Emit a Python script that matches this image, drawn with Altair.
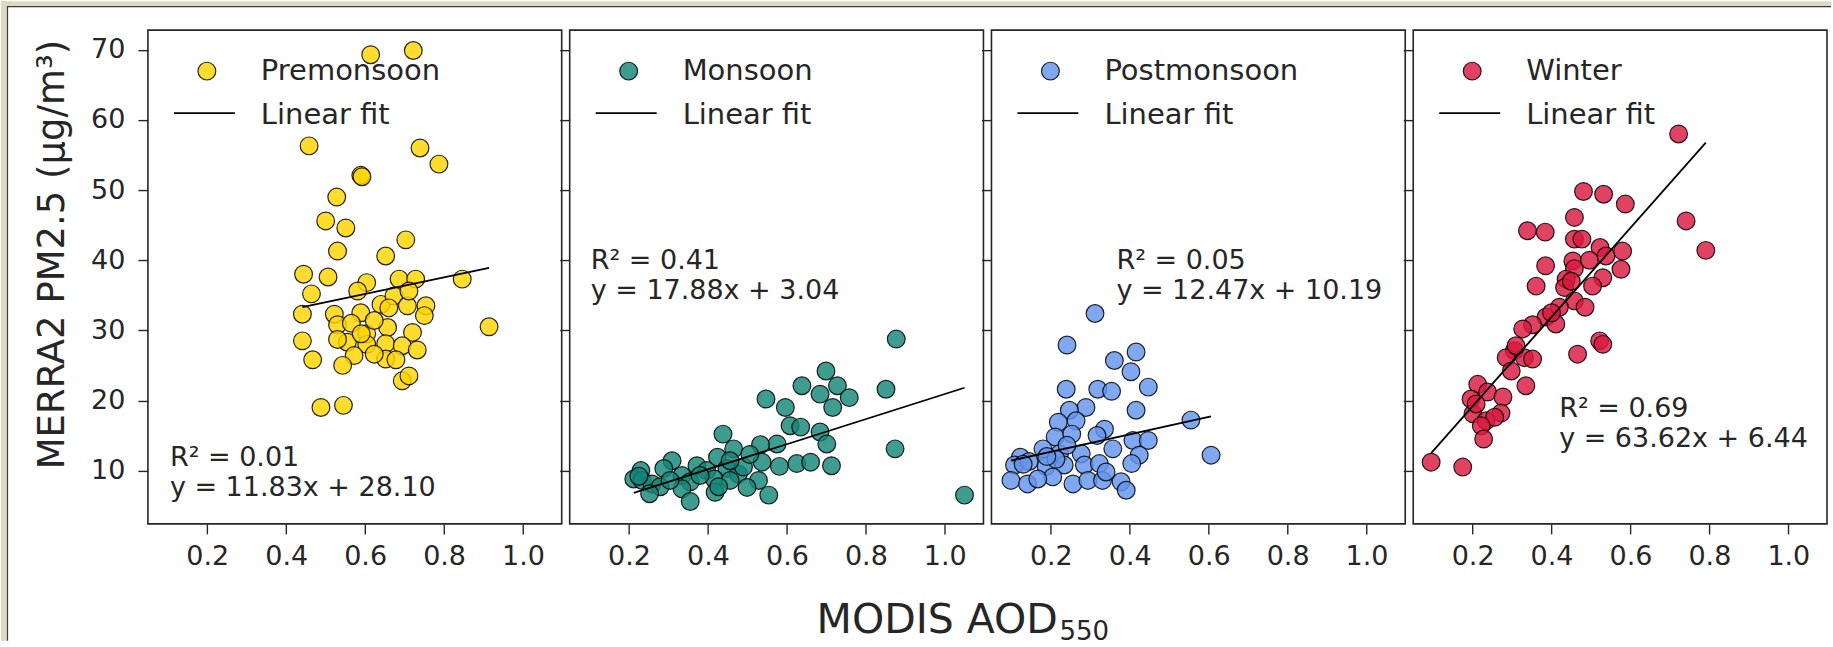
import altair as alt
import pandas as pd

FONT = "DejaVu Sans"
INK = "#262626"

# ---------------- data ----------------
seasons = ["Premonsoon", "Monsoon", "Postmonsoon", "Winter"]
colors = ["#FFD400", "#138677", "#6495ED", "#DA1840"]
slopes = [11.83, 17.88, 12.47, 63.62]
intercepts = [28.10, 3.04, 10.19, 6.44]
r2_values = [0.01, 0.41, 0.05, 0.69]

pre_aod = [0.614, 0.722, 0.458, 0.739, 0.787, 0.589, 0.592, 0.528, 0.500, 0.551,
           0.703, 0.530, 0.652, 0.444, 0.506, 0.604, 0.581, 0.686, 0.728, 0.846,
           0.464, 0.640, 0.673, 0.707, 0.754, 0.711, 0.441, 0.522, 0.589, 0.750,
           0.530, 0.565, 0.604, 0.657, 0.720, 0.914, 0.441, 0.555, 0.604, 0.652,
           0.694, 0.732, 0.467, 0.572, 0.652, 0.678, 0.543, 0.694, 0.711, 0.488,
           0.545, 0.623, 0.623, 0.530, 0.660, 0.590]
pre_pm = [69.3, 69.9, 56.3, 56.0, 53.7, 52.1, 51.9, 49.0, 45.6, 44.6,
          42.9, 41.3, 40.6, 38.0, 37.6, 36.8, 35.6, 37.3, 37.3, 37.3,
          35.2, 33.7, 34.9, 33.5, 33.5, 35.6, 32.3, 32.3, 32.5, 32.1,
          30.8, 31.0, 29.5, 30.4, 29.7, 30.5, 28.5, 28.3, 28.0, 28.1,
          27.8, 27.2, 25.8, 26.4, 25.9, 25.8, 25.0, 22.8, 23.5, 19.0,
          19.3, 31.4, 26.6, 28.7, 33.2, 29.5]

mon_aod = [0.877, 0.699, 0.638, 0.728, 0.851, 0.684, 0.758, 0.547, 0.716, 0.596,
           0.608, 0.635, 0.684, 0.438, 0.701, 0.575, 0.533, 0.465, 0.874, 0.424,
           0.537, 0.581, 0.625, 0.660, 0.713, 0.309, 0.372, 0.230, 0.288, 0.334,
           0.397, 0.448, 0.477, 0.490, 0.212, 0.233, 0.258, 0.279, 0.355, 0.416,
           0.456, 0.528, 0.334, 0.418, 0.499, 0.554, 0.355, 1.050, 0.252, 0.304,
           0.380, 0.506, 0.456, 0.427, 0.225]
mon_pm = [28.75, 24.2, 22.1, 22.1, 21.6, 20.9, 20.4, 20.2, 19.0, 19.0,
          16.4, 16.2, 15.5, 15.2, 13.8, 13.8, 13.7, 13.1, 13.1, 11.9,
          11.2, 10.6, 11.0, 11.2, 10.7, 11.4, 10.7, 10.0, 10.3, 9.3,
          10.0, 10.3, 9.5, 10.5, 8.8, 8.6, 8.1, 7.7, 8.4, 8.8,
          8.6, 8.6, 7.4, 6.9, 7.6, 6.5, 5.6, 6.5, 6.7, 8.6,
          9.3, 12.3, 11.4, 7.7, 9.2]

post_aod = [0.312, 0.241, 0.416, 0.361, 0.403, 0.239, 0.319, 0.354, 0.447, 0.416,
            0.289, 0.247, 0.555, 0.219, 0.264, 0.336, 0.317, 0.211, 0.253, 0.408,
            0.447, 0.180, 0.357, 0.123, 0.222, 0.277, 0.606, 0.424, 0.108, 0.145,
            0.188, 0.234, 0.285, 0.323, 0.405, 0.099, 0.141, 0.205, 0.256, 0.294,
            0.331, 0.378, 0.391, 0.167, 0.340, 0.213, 0.241, 0.130, 0.190]
post_pm = [32.4, 27.9, 26.9, 25.7, 24.1, 21.6, 21.6, 21.3, 21.9, 18.6,
           19.0, 18.6, 17.2, 16.9, 17.1, 15.9, 15.0, 14.8, 15.2, 14.3,
           14.3, 13.1, 13.1, 11.9, 12.4, 12.4, 12.2, 12.2, 10.8, 11.3,
           10.6, 10.8, 10.8, 11.0, 11.0, 8.6, 8.1, 9.1, 8.1, 8.6,
           8.6, 8.4, 7.2, 8.8, 9.8, 11.6, 13.6, 10.9, 12.0]

win_aod = [0.722, 0.481, 0.532, 0.587, 0.458, 0.741, 0.339, 0.384, 0.458, 0.477,
           0.523, 0.580, 0.791, 0.385, 0.454, 0.496, 0.458, 0.538, 0.576, 0.530,
           0.361, 0.437, 0.504, 0.433, 0.458, 0.485, 0.420, 0.386, 0.411, 0.352,
           0.327, 0.522, 0.530, 0.306, 0.466, 0.285, 0.331, 0.352, 0.298, 0.335,
           0.213, 0.238, 0.277, 0.196, 0.201, 0.272, 0.234, 0.256, 0.222, 0.228,
           0.095, 0.175, 0.209, 0.310, 0.450, 0.400]
win_pm = [58.0, 49.8, 49.4, 48.0, 46.1, 45.6, 44.2, 44.0, 43.0, 43.0,
          41.8, 41.3, 41.4, 39.2, 39.9, 40.0, 38.8, 40.6, 38.7, 37.5,
          36.3, 37.3, 36.3, 36.1, 34.2, 33.3, 33.3, 31.9, 30.9, 30.8,
          30.2, 28.5, 28.0, 27.1, 26.6, 26.1, 26.1, 25.9, 24.2, 22.1,
          22.3, 21.2, 20.5, 20.2, 18.1, 18.2, 17.1, 17.6, 16.4, 14.5,
          11.2, 10.5, 19.5, 27.8, 37.0, 32.5]

aod_series = [pre_aod, mon_aod, post_aod, win_aod]
pm_series = [pre_pm, mon_pm, post_pm, win_pm]

x_ticks = [0.2, 0.4, 0.6, 0.8, 1.0]
y_ticks = [10, 20, 30, 40, 50, 60, 70]
x_domain = [0.0496, 1.098]
y_domain = [2.4, 72.8]

y_title = "MERRA2 PM2.5 (μg/m³)"
x_title_main = "MODIS AOD"
x_title_sub = "550"

# ---------------- layout (pixels) ----------------
W, H = 414, 494
ann_pos = [(22, 436), (21, 239), (125, 239), (146, 387)]
LINE_GAP = 30
MARK_SIZE = 315
one = pd.DataFrame({"k": [0]})


def panel(i):
    xs = alt.Scale(domain=x_domain, nice=False, zero=False)
    ys = alt.Scale(domain=y_domain, nice=False, zero=False)
    xaxis = alt.Axis(values=x_ticks, format=".1f", title=None, labelPadding=10)
    if i == 0:
        yaxis = alt.Axis(values=y_ticks, title=y_title, labelPadding=13,
                         titleX=-95, titleY=224, titleAngle=270,
                         titleAlign="center", titleBaseline="middle",
                         titleFontSize=37, titleFontWeight="normal")
    else:
        yaxis = alt.Axis(values=y_ticks, labels=False, title=None)

    df = pd.DataFrame({"aod": aod_series[i], "pm": pm_series[i]})
    x0, x1 = min(aod_series[i]), max(aod_series[i])
    fit = pd.DataFrame({"aod": [x0, x1],
                        "pm": [slopes[i] * x0 + intercepts[i], slopes[i] * x1 + intercepts[i]]})

    enc = dict(x=alt.X("aod:Q", scale=xs, axis=xaxis),
               y=alt.Y("pm:Q", scale=ys, axis=yaxis))

    pts = alt.Chart(df).mark_circle(size=MARK_SIZE, color=colors[i], fillOpacity=0.82,
                                    stroke="black", strokeWidth=1.2,
                                    strokeOpacity=0.85).encode(**enc)
    line = alt.Chart(fit).mark_line(color="black", strokeWidth=1.8).encode(**enc)

    leg = pd.DataFrame({"label": [seasons[i]]})
    leg_pt = alt.Chart(leg).mark_circle(size=MARK_SIZE, color=colors[i], fillOpacity=0.82,
                                        stroke="black", strokeWidth=1.2,
                                        strokeOpacity=0.85).encode(
        x=alt.value(59), y=alt.value(41))
    leg_t1 = alt.Chart(leg).mark_text(align="left", baseline="alphabetic", fontSize=29,
                                      font=FONT, color=INK).encode(
        x=alt.value(113), y=alt.value(50), text="label:N")
    leg_rule = alt.Chart(leg).mark_rule(color="black", strokeWidth=1.8).encode(
        x=alt.value(26), x2=alt.value(87), y=alt.value(83))
    leg_t2 = alt.Chart(leg).mark_text(align="left", baseline="alphabetic", fontSize=29,
                                      font=FONT, color=INK).encode(
        x=alt.value(113), y=alt.value(94), text=alt.value("Linear fit"))

    ann = pd.DataFrame({"r2": [f"R² = {r2_values[i]:.2f}"],
                        "eq": [f"y = {slopes[i]:.2f}x + {intercepts[i]:.2f}"]})
    ax, ay = ann_pos[i]
    ann1 = alt.Chart(ann).mark_text(align="left", baseline="alphabetic", fontSize=27,
                                    font=FONT, color=INK).encode(
        x=alt.value(ax), y=alt.value(ay), text="r2:N")
    ann2 = alt.Chart(ann).mark_text(align="left", baseline="alphabetic", fontSize=27,
                                    font=FONT, color=INK).encode(
        x=alt.value(ax), y=alt.value(ay + LINE_GAP), text="eq:N")

    layers = [pts, line, leg_pt, leg_t1, leg_rule, leg_t2, ann1, ann2]

    if i == 0:
        # beige frame strips at top/left (screenshot border) + x-axis title
        top_strip = alt.Chart(one).mark_rect(color="#DDD9C3").encode(
            x=alt.value(-147), x2=alt.value(1684), y=alt.value(-29), y2=alt.value(-24))
        left_strip = alt.Chart(one).mark_rect(color="#DDD9C3").encode(
            x=alt.value(-147), x2=alt.value(-141), y=alt.value(-29), y2=alt.value(611))
        vline = alt.Chart(one).mark_rule(color="#3a3a3a", strokeWidth=1.2).encode(
            x=alt.value(-140.5), y=alt.value(-24), y2=alt.value(611))
        hline = alt.Chart(one).mark_rule(color="#3a3a3a", strokeWidth=1.2).encode(
            y=alt.value(-23.5), x=alt.value(-141), x2=alt.value(1684))
        xt1 = alt.Chart(one).mark_text(align="left", baseline="alphabetic", fontSize=41,
                                       font=FONT, color=INK).encode(
            x=alt.value(669), y=alt.value(603), text=alt.value(x_title_main))
        xt2 = alt.Chart(one).mark_text(align="left", baseline="alphabetic", fontSize=26,
                                       font=FONT, color=INK).encode(
            x=alt.value(912), y=alt.value(610), text=alt.value(x_title_sub))
        layers = [top_strip, left_strip, vline, hline] + layers + [xt1, xt2]

    return alt.layer(*layers).properties(width=W, height=H)


panels = [panel(i) for i in range(4)]

chart = (
    alt.hconcat(*panels, spacing=8, bounds="flush")
    .properties(padding=0, background="white")
    .configure(font=FONT)
    .configure_view(stroke=INK, strokeWidth=1.6)
    .configure_axis(domain=False, grid=False, tickColor=INK, tickWidth=1.4,
                    tickSize=10, labelColor=INK, labelFont=FONT, labelFontSize=27,
                    titleFont=FONT, titleColor=INK)
)

chart.save("out.html", embed_options={"renderer": "svg", "actions": False})
